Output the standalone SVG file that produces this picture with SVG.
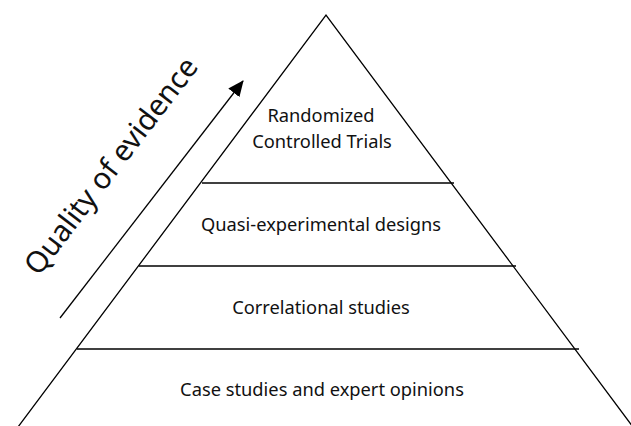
<svg xmlns="http://www.w3.org/2000/svg" width="631" height="426" viewBox="0 0 631 426">
<style>
.ln{stroke:#000;stroke-width:1.3;fill:none}
.lbl{font-family:"Noto Sans","Open Sans",sans-serif;font-size:18.3px;fill:#111;text-anchor:middle}
</style>
<defs>
<marker id="ah" markerWidth="16" markerHeight="14" refX="15" refY="7" orient="auto" markerUnits="userSpaceOnUse" viewBox="0 0 16 14">
<path d="M0,0 L16,7 L0,14 z" fill="#000"/>
</marker>
</defs>
<rect width="631" height="426" fill="#fff"/>
<g id="pyramid">
<path class="ln" d="M15,431 L326,15 L636,431"/>
</g>
<g id="tier1">
<text class="lbl" x="321" y="122">Randomized</text>
<text class="lbl" x="322" y="148">Controlled Trials</text>
</g>
<g id="tier2">
<line class="ln" x1="202" y1="183" x2="454" y2="183"/>
<text class="lbl" x="321" y="231">Quasi-experimental designs</text>
</g>
<g id="tier3">
<line class="ln" x1="139" y1="266" x2="516" y2="266"/>
<text class="lbl" x="321" y="314">Correlational studies</text>
</g>
<g id="tier4">
<line class="ln" x1="77" y1="349" x2="579" y2="349"/>
<text class="lbl" x="322" y="396">Case studies and expert opinions</text>
</g>
<g id="connectors">
<line class="ln" x1="60" y1="318" x2="243" y2="81" marker-end="url(#ah)" stroke-width="1.5"/>
</g>
<g id="axis-label">
<text x="0" y="0" transform="translate(119,172) rotate(-52.6)" font-family="Noto Sans, Open Sans, sans-serif" font-size="29.5" fill="#111" text-anchor="middle">Quality of evidence</text>
</g>
</svg>
